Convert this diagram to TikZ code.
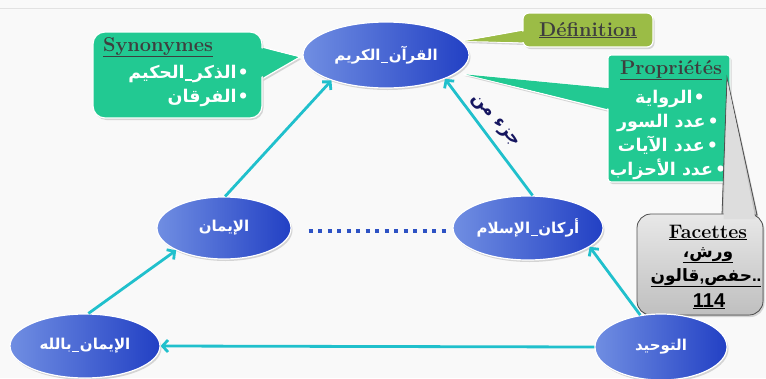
\documentclass[tikz,border=0pt]{standalone}
\usepackage{fontspec}
\newfontfamily\ar[Script=Arabic]{DejaVu Sans}
\newfontfamily\lsans{Liberation Sans}
\TeXXeTstate=1
\usetikzlibrary{arrows.meta,shadows,shapes.geometric}

% short underscore joining two Arabic words
\newcommand\usc{\kern.6pt\rule[-2.6pt]{7pt}{1.3pt}\kern.6pt}

\definecolor{bgc}{RGB}{249,249,249}
\definecolor{rulec}{RGB}{226,226,226}
\definecolor{boxgreen}{RGB}{34,201,146}
\definecolor{defolive}{RGB}{155,188,70}
\definecolor{linkc}{RGB}{32,192,204}
\definecolor{dotblue}{RGB}{45,82,196}
\definecolor{ballhi}{RGB}{112,142,226}
\definecolor{ballmid}{RGB}{62,94,210}
\definecolor{balllo}{RGB}{34,64,196}
\definecolor{titlegray}{RGB}{62,62,62}
\definecolor{navyc}{RGB}{22,22,96}
\definecolor{facetline}{RGB}{80,80,80}

\tikzset{
  concept/.style={ellipse, inner sep=0pt, draw=white, line width=1.2pt,
    left color=ballhi, middle color=ballmid, right color=balllo, text=white,
    font=\ar\bfseries\fontsize{15}{17}\selectfont,
    drop shadow={shadow xshift=1.5pt, shadow yshift=-2pt, opacity=.3}},
  link/.style={draw=linkc, line width=2.8pt, -{Straight Barb[length=5.5pt,width=12pt]}},
  dotline/.style={draw=dotblue, line width=4pt, dash pattern=on 4pt off 5.5pt},
  greenbox/.style={fill=boxgreen, draw=white, line width=1.2pt,
    drop shadow={shadow xshift=1.5pt, shadow yshift=-2pt, opacity=.3}},
  olivebox/.style={fill=defolive, draw=white, line width=1.2pt,
    drop shadow={shadow xshift=1.5pt, shadow yshift=-2pt, opacity=.3}},
  graybox/.style={top color=gray!18, bottom color=gray!50, draw=facetline, line width=.8pt,
    drop shadow={shadow xshift=1.5pt, shadow yshift=-2pt, opacity=.3}},
  titletext/.style={inner sep=0pt, anchor=base, font=\bfseries\fontsize{20}{22}\selectfont, text=titlegray},
  artext/.style={inner sep=0pt, anchor=base, font=\ar\bfseries\fontsize{17.5}{19}\selectfont, text=white},
  facettext/.style={inner sep=0pt, anchor=base, font=\ar\bfseries\fontsize{17}{19}\selectfont, text=black},
}

\begin{document}
\begin{tikzpicture}[x=1pt,y=-1pt]
\useasboundingbox (0,0) rectangle (766,378);
\fill[bgc] (0,0) rectangle (766,378);
\draw[rulec, line width=1pt] (0,8) -- (766,8);

% Synonymes callout
\fill[greenbox] (262,47) -- (300,57) -- (262,79) -- cycle;
\filldraw[greenbox, rounded corners=12pt] (93,32) rectangle (262,118);
\fill[boxgreen] (258,47.5) -- (298,57) -- (258,78.5) -- cycle;
\node[titletext] (syntitle) at (158,51) {\underline{Synonymes}};
\node[artext, anchor=base east] (syn1) at (249,78) {{\beginR الذكر\usc الحكيم\endR}\kern1pt•};
\node[artext, anchor=base east] (syn2) at (249,102) {{\beginR الفرقان\endR}\kern1pt•};

% Definition callout
\fill[olivebox] (523,30) -- (463,41) -- (523,43) -- cycle;
\filldraw[olivebox, rounded corners=6pt] (523,13) rectangle (653,47);
\fill[defolive] (527,30.8) -- (465,41) -- (527,42.3) -- cycle;
\node[titletext] (deftitle) at (588,36) {\underline{Définition}};

% Proprietes callout
\fill[greenbox] (608,88) -- (463,74) -- (608,110) -- cycle;
\filldraw[greenbox, rounded corners=3pt] (608,55) rectangle (730,182);
\fill[boxgreen] (612,88.5) -- (466,74.5) -- (612,109.5) -- cycle;
\node[titletext] (proptitle) at (671,74) {\underline{Propriétés}};
\node[artext] (prop1) at (670,103) {{\beginR الرواية\endR}\kern1pt•};
\node[artext] (prop2) at (668,127) {{\beginR عدد السور\endR}\kern2pt•};
\node[artext] (prop3) at (668,151) {{\beginR عدد الآيات\endR}\kern2pt•};
\node[artext] (prop4) at (668,175) {{\beginR عدد الأحزاب\endR}\kern2pt•};

% Facettes callout
\filldraw[graybox] (722,215) -- (727,78) -- (757,215) -- cycle;
\filldraw[graybox, rounded corners=14pt] (637,214) rectangle (763,315);
\fill[gray!27] (723.5,219) -- (727.5,81) -- (755.5,219) -- cycle;
\node[inner sep=0pt, anchor=base, font=\bfseries\fontsize{19.5}{21}\selectfont] (factitle) at (708,238) {\underline{Facettes}};
\node[facettext] (fac1) at (708,257) {\underline{\hbox{\beginR ورش،\endR}}};
\node[facettext] (fac2) at (706,281) {\underline{\hbox{\hbox{\beginR قالون\endR}\hbox{\lsans\bfseries,}\hbox{\beginR حفص\endR}\hbox{\lsans\bfseries..}}}};
\node[inner sep=0pt, anchor=base, font=\lsans\bfseries\fontsize{20}{22}\selectfont] (fac3) at (709,307) {\underline{114}};

% concepts
\node[concept, minimum width=166pt, minimum height=66pt] (quran) at (386,55) {\beginR القرآن\usc الكريم\endR};
\node[concept, minimum width=134pt, minimum height=62pt] (iman) at (224,228) {\beginR الإيمان\endR};
\node[concept, minimum width=150pt, minimum height=64pt] (arkan) at (528,228) {\beginR أركان\usc الإسلام\endR};
\node[concept, minimum width=150pt, minimum height=64pt] (billah) at (85,346) {\beginR الإيمان\usc بالله\endR};
\node[concept, minimum width=132pt, minimum height=66pt] (tawhid) at (661,347) {\beginR التوحيد\endR};

% links
\draw[link] (billah.84) -- (iman.205);
\draw[link] (iman.88) -- (quran.205);
\draw[link] (arkan.82) -- (quran.-22);
\draw[link] (tawhid.west) -- (billah.east);
\draw[link] (tawhid.123) -- (arkan.-17);
\draw[dotline] ([xshift=17pt,yshift=-3pt]iman.east) -- ([xshift=-2pt,yshift=-3pt]arkan.west);

\node[inner sep=0pt, rotate=-48, text=navyc, font=\ar\bfseries\fontsize{17.5}{19}\selectfont] (partof) at (495,121) {\beginR جزء من\endR};
\end{tikzpicture}
\end{document}
